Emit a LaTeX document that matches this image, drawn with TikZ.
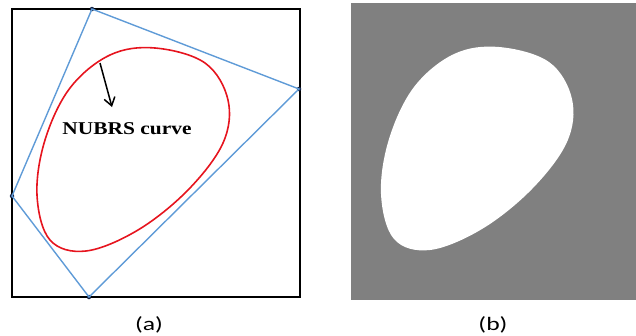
\documentclass[tikz,border=0pt]{standalone}
\usepackage{fontspec}
\setmainfont{Liberation Serif}
\newfontfamily\capfont{Carlito}
\usetikzlibrary{arrows.meta}
\definecolor{polyblue}{RGB}{95,155,215}
\definecolor{curvered}{RGB}{230,20,30}
\definecolor{dotnavy}{RGB}{20,35,70}
\definecolor{panelgray}{RGB}{128,128,128}
\tikzset{
  frame/.style={draw=black,line width=1.8pt},
  poly/.style={draw=polyblue,line width=1.4pt},
  ctrl/.style={circle,fill=dotnavy,inner sep=0pt,minimum size=4.5pt},
  curv/.style={draw=curvered,line width=1.6pt},
  lbl/.style={font=\capfont\fontsize{19}{22}\selectfont,inner sep=0pt,xscale=1.35},
}
\def\eggpts{(155,48) (205,63) (228,100) (223,143) (188,190) (138,230) (86,251) (50,240) (37,195) (45,140) (70,88) (110,55)}
\begin{document}
\begin{tikzpicture}[x=1pt,y=-1pt]
\useasboundingbox (0,0) rectangle (636,335);
% left panel frame
\draw[frame] (12,9) rectangle (300,297);
% control points
\node[ctrl] (p1) at (92,9) {};
\node[ctrl] (p2) at (299,89) {};
\node[ctrl] (p3) at (89,297) {};
\node[ctrl] (p4) at (12,196) {};
\draw[poly] (p1.center) -- (p2.center) -- (p3.center) -- (p4.center) -- cycle;
% NUBRS curve
\draw[curv] plot[smooth cycle,tension=0.6] coordinates {\eggpts};
% label and arrow
\node[font=\bfseries\fontsize{18}{20}\selectfont,xscale=1.19,inner sep=0pt] (lab) at (127,129) {NUBRS curve};
\coordinate (arrs) at (100,63);
\coordinate (arre) at (112,107);
\draw[line width=1.5pt,-{Straight Barb[length=8pt,width=11pt]}] (arrs) -- (arre);
% right panel
\fill[panelgray] (351,3) rectangle (636,300);
\begin{scope}[shift={(344,-1)}]
\fill[white] plot[smooth cycle,tension=0.6] coordinates {\eggpts};
\end{scope}
% captions
\node[lbl] (ca) at (149,325) {(a)};
\node[lbl] (cb) at (493,325) {(b)};
\end{tikzpicture}
\end{document}
